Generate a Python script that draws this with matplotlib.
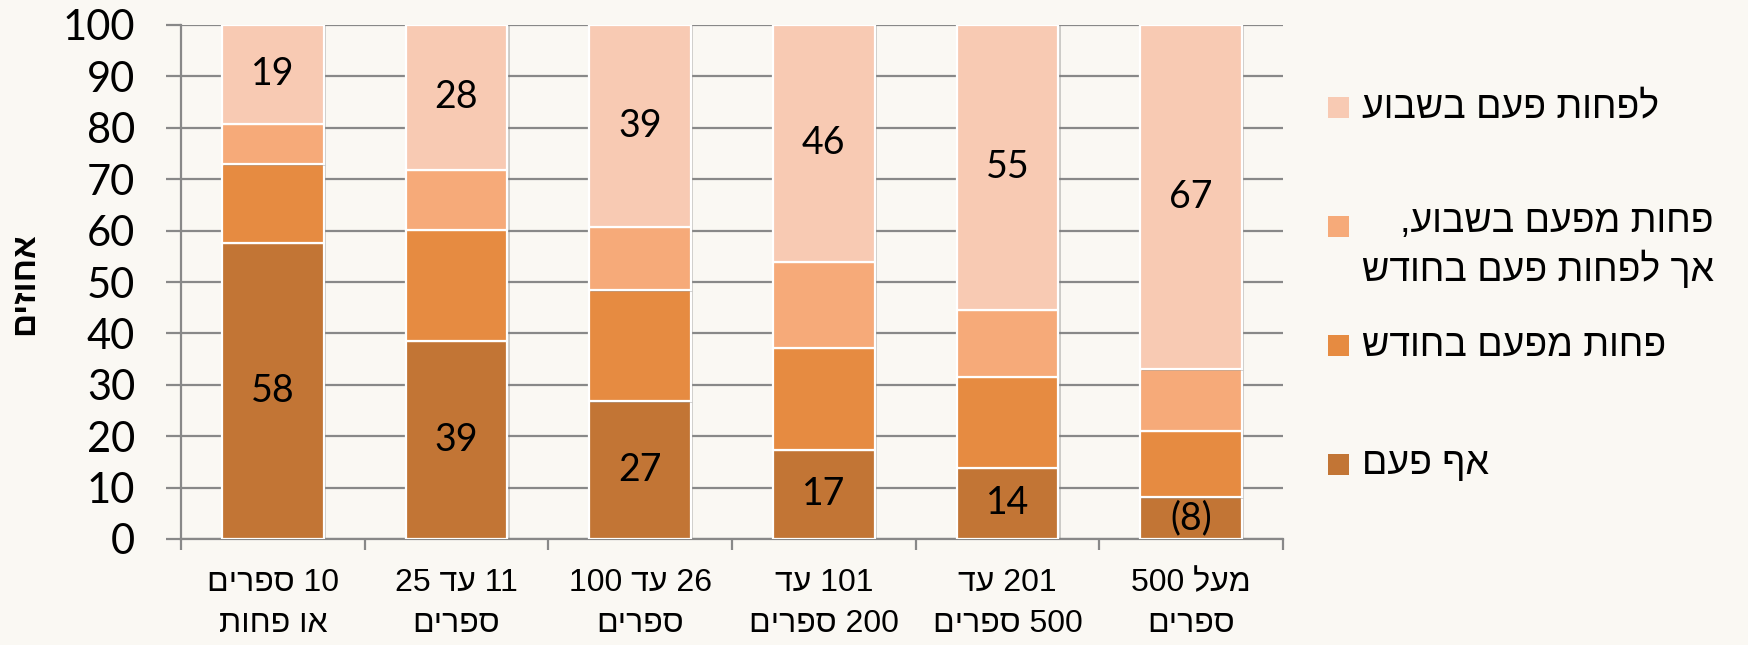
import matplotlib
matplotlib.use("Agg")
import matplotlib.pyplot as plt
import matplotlib.patheffects as pe
from matplotlib.patches import Rectangle
import numpy as np

# data (percent), bottom -> top of each bar
categories = ["10 ספרים\nאו פחות", "11 עד 25\nספרים", "26 עד 100\nספרים",
              "101 עד\n200 ספרים", "201 עד\n500 ספרים", "מעל 500\nספרים"]
never = [57.6, 38.6, 26.8, 17.4, 13.9, 8.1]
less_monthly = [15.3, 21.6, 21.6, 19.8, 17.6, 12.9]
monthly = [7.9, 11.6, 12.3, 16.7, 13.1, 12.0]
weekly = [19.2, 28.2, 39.3, 46.1, 55.4, 67.0]
top_labels = ["19", "28", "39", "46", "55", "67"]
bottom_labels = ["58", "39", "27", "17", "14", "(8)"]

series_names = ["אף פעם", "פחות מפעם בחודש",
                "פחות מפעם בשבוע,\nאך לפחות פעם בחודש", "לפחות פעם בשבוע"]
colors = ["#C27535", "#E68B41", "#F6AA79", "#F8CAB3"]
ylabel = "אחוזים"

HEB = ["Liberation Sans", "DejaVu Sans"]
NUM = ["Lato", "Liberation Sans", "DejaVu Sans"]


def vis(s):
    # logical hebrew -> visual order, line by line
    out = []
    for line in s.split("\n"):
        words = line.split(" ")
        words = [w if w.isdigit() else w[::-1] for w in words]
        out.append(" ".join(words[::-1]))
    return "\n".join(out)


W, H = 1749, 645
fig = plt.figure(figsize=(W / 100, H / 100), dpi=100, facecolor="#FAF8F3")
ax = fig.add_axes([181 / W, 1 - 539 / H, (1283 - 181) / W, (539 - 25) / H])
ax.set_facecolor("none")

x = np.arange(len(categories))
stack = [never, less_monthly, monthly, weekly]
bottom = np.zeros(len(x))
for vals, c in zip(stack, colors):
    b = ax.bar(x, vals, 0.555, bottom=bottom, color=c, edgecolor="white",
               linewidth=1.6, zorder=3)
    for p in b:
        p.set_path_effects([pe.SimplePatchShadow(offset=(1.5, -1), shadow_rgbFace="#777777", alpha=0.35),
                            pe.Normal()])
    bottom = bottom + np.array(vals)

for i in range(len(x)):
    ax.text(x[i], never[i] / 2, bottom_labels[i], ha="center", va="center",
            fontsize=27, family=NUM, zorder=5)
    ax.text(x[i], 100 - weekly[i] / 2, top_labels[i], ha="center", va="center",
            fontsize=27, family=NUM, zorder=5)

ax.set_xlim(-0.5, len(x) - 0.5)
ax.set_ylim(0, 100)
ax.set_yticks(np.arange(0, 101, 10))
ax.yaxis.grid(True, color="#888888", linewidth=1.6, zorder=0)
ax.set_axisbelow(True)
for s in ["top", "right"]:
    ax.spines[s].set_visible(False)
for s in ["left", "bottom"]:
    ax.spines[s].set_color("#888888")
    ax.spines[s].set_linewidth(1.6)

ax.tick_params(axis="y", length=11, width=1.6, color="#888888", pad=22)
for t in ax.get_yticklabels():
    t.set_fontsize(30)
    t.set_family(NUM)

ax.set_xticks(x)
ax.set_xticklabels([vis(c) for c in categories], fontsize=23, family=HEB,
                   linespacing=1.45)
ax.tick_params(axis="x", length=0, pad=21)
ax.set_xticks(np.arange(-0.5, len(x), 1), minor=True)
ax.tick_params(axis="x", which="minor", length=8, width=1.6, color="#888888")

fig.text(25 / W, 1 - 284 / H, vis(ylabel), rotation=90, ha="center", va="center",
         fontsize=24, fontweight="bold", family=HEB)

# legend drawn by hand (top series first)
leg_y = [107.5, 226.5, 345.5, 464]
for yy, name, c in zip(leg_y, series_names[::-1], colors[::-1]):
    fig.patches.append(Rectangle((1328 / W, 1 - (yy + 10.5) / H), 21 / W, 21 / H,
                                 transform=fig.transFigure, facecolor=c, edgecolor="none"))
    n = name.count("\n")
    fig.text(1362 / W, 1 - (yy + n * 20) / H, vis(name), ha="left", va="center",
             multialignment="right", fontsize=27, family=HEB, linespacing=1.35)

fig.savefig("out.png", dpi=100, facecolor=fig.get_facecolor())
